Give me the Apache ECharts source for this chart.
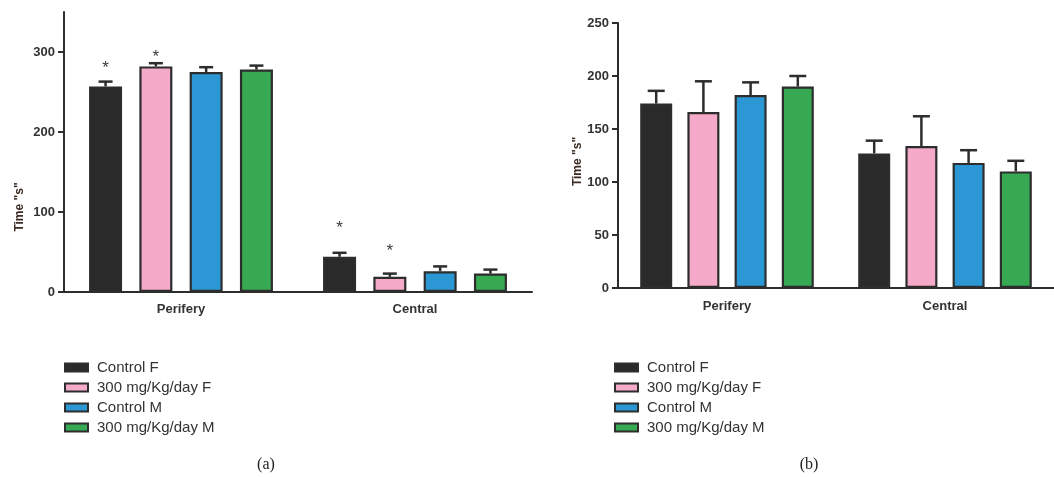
<!DOCTYPE html>
<html><head><meta charset="utf-8">
<script src="https://cdn.jsdelivr.net/npm/echarts@6/dist/echarts.min.js"></script>
<style>html,body{margin:0;padding:0;background:#fff}#c{width:1054px;height:477px}</style>
</head><body><div id="c"></div>
<script>
// ---------- data ----------
const categories = ['Perifery', 'Central'];
const seriesNames = ['Control F', '300 mg/Kg/day F', 'Control M', '300 mg/Kg/day M'];
// panel (a) means and upper errors
const aControlF = [257, 44];
const aDoseF = [282, 19];
const aControlM = [275, 26];
const aDoseM = [278, 23];
const aControlFErr = [6, 5];
const aDoseFErr = [4, 4];
const aControlMErr = [6, 6];
const aDoseMErr = [5, 5];
// significance asterisks: [categoryIndex, seriesIndex, value]
const aStars = [[0, 0, 285], [0, 1, 298], [1, 0, 85], [1, 1, 56]];
const aTicks = [0, 100, 200, 300];
// panel (b) means and upper errors
const bControlF = [174, 127];
const bDoseF = [166, 134];
const bControlM = [182, 118];
const bDoseM = [190, 110];
const bControlFErr = [12, 12];
const bDoseFErr = [29, 28];
const bControlMErr = [12, 12];
const bDoseMErr = [10, 10];
const bTicks = [0, 50, 100, 150, 200, 250];
const panelLabels = ['(a)', '(b)'];
const yName = 'Time "s"';

// ---------- styles ----------
const colors = ['#2b2a2b', '#f4aac8', '#2b98d5', '#37a952'];
const edge = '#2d2d2d';
const txt = '#333333';
const fontFam = '"Liberation Sans", Arial, sans-serif';

const aMeans = [aControlF, aDoseF, aControlM, aDoseM];
const aErrs = [aControlFErr, aDoseFErr, aControlMErr, aDoseMErr];
const bMeans = [bControlF, bDoseF, bControlM, bDoseM];
const bErrs = [bControlFErr, bDoseFErr, bControlMErr, bDoseMErr];

const panels = [
  {means: aMeans, errs: aErrs, stars: aStars, barW: 33, gap: 0.524, cap: 14},
  {means: bMeans, errs: bErrs, stars: [], barW: 32, gap: 0.475, cap: 17}
];

function errRender(barW, gap, capW) {
  return function (params, api) {
    const c = api.value(0), s = api.value(1), m = api.value(2), e = api.value(3);
    const base = api.coord([c, m]);
    const top = api.coord([c, m + e]);
    const x = base[0] + (s - 1.5) * barW * (1 + gap);
    const st = {stroke: edge, lineWidth: 2.5};
    return {type: 'group', children: [
      {type: 'line', shape: {x1: x, y1: base[1], x2: x, y2: top[1]}, style: st},
      {type: 'line', shape: {x1: x - capW / 2, y1: top[1], x2: x + capW / 2, y2: top[1]}, style: st}
    ]};
  };
}
function starRender(barW, gap) {
  return function (params, api) {
    const c = api.value(0), s = api.value(1), v = api.value(2);
    const p = api.coord([c, v]);
    const x = p[0] + (s - 1.5) * barW * (1 + gap);
    return {type: 'text', x: x, y: p[1] + 4, style: {text: '*', fill: '#3a3a3a', font: '17px ' + fontFam, align: 'center', verticalAlign: 'middle'}};
  };
}

const series = [];
panels.forEach(function (p, pi) {
  p.means.forEach(function (vals, si) {
    series.push({
      type: 'bar', name: seriesNames[si], xAxisIndex: pi, yAxisIndex: pi,
      data: vals, barWidth: p.barW, barGap: (p.gap * 100) + '%',
      itemStyle: {color: colors[si], borderColor: edge, borderWidth: 2.2},
      emphasis: {disabled: true}, z: 2
    });
  });
  const errData = [];
  p.means.forEach(function (vals, si) {
    vals.forEach(function (v, ci) { errData.push([ci, si, v, p.errs[si][ci]]); });
  });
  series.push({
    type: 'custom', xAxisIndex: pi, yAxisIndex: pi, data: errData,
    encode: {x: 0, y: 2}, renderItem: errRender(p.barW, p.gap, p.cap), z: 3, silent: true
  });
  if (p.stars.length) {
    series.push({
      type: 'custom', xAxisIndex: pi, yAxisIndex: pi, data: p.stars,
      encode: {x: 0, y: 2}, renderItem: starRender(p.barW, p.gap), z: 4, silent: true
    });
  }
});

function xAxis(gi, margin) {
  return {
    type: 'category', gridIndex: gi, data: categories,
    axisLine: {lineStyle: {color: edge, width: 2}},
    axisTick: {alignWithLabel: true, length: 5, lineStyle: {color: edge, width: 2}},
    axisLabel: {color: txt, fontWeight: 'bold', fontSize: 13, fontFamily: fontFam, margin: margin}
  };
}
function yAxis(gi, max, interval, ticks, gap, pad) {
  return {
    type: 'value', gridIndex: gi, min: 0, max: max, interval: interval,
    name: yName, nameLocation: 'middle', nameGap: gap,
    nameTextStyle: {color: '#3b2b22', fontWeight: 'bold', fontSize: 12, fontFamily: fontFam, padding: pad},
    axisLine: {show: true, lineStyle: {color: edge, width: 2}},
    axisTick: {show: true, length: 6, lineStyle: {color: edge, width: 2}, customValues: ticks},
    axisLabel: {color: txt, fontWeight: 'bold', fontSize: 13, fontFamily: fontFam, margin: 9, customValues: ticks},
    splitLine: {show: false}
  };
}
function legend(left) {
  return {
    data: seriesNames, orient: 'vertical', left: left, top: 360, padding: 0,
    itemWidth: 23, itemHeight: 8, itemGap: 5, icon: 'rect',
    textStyle: {color: txt, fontSize: 15, fontFamily: fontFam, lineHeight: 15, padding: [0, 0, 0, 4]},
    selectedMode: false
  };
}

const chart = echarts.init(document.getElementById('c'), null, {renderer: 'canvas'});
chart.setOption({
  animation: false,
  backgroundColor: '#ffffff',
  grid: [
    {left: 64, top: 12, width: 468, height: 280},
    {left: 618, top: 23, width: 442, height: 265}
  ],
  xAxis: [xAxis(0, 11), xAxis(1, 12)],
  yAxis: [yAxis(0, 350, 100, aTicks, 38, [0, 110, 0, 0]), yAxis(1, 250, 50, bTicks, 30, [0, 12, 0, 0])],
  legend: [legend(64), legend(614)],
  graphic: [
    {type: 'text', x: 266, y: 465, style: {text: panelLabels[0], fill: '#222', font: '16px "Liberation Serif", "DejaVu Serif", serif', align: 'center', verticalAlign: 'middle'}},
    {type: 'text', x: 809, y: 465, style: {text: panelLabels[1], fill: '#222', font: '16px "Liberation Serif", "DejaVu Serif", serif', align: 'center', verticalAlign: 'middle'}}
  ],
  series: series
});
</script>
</body></html>
